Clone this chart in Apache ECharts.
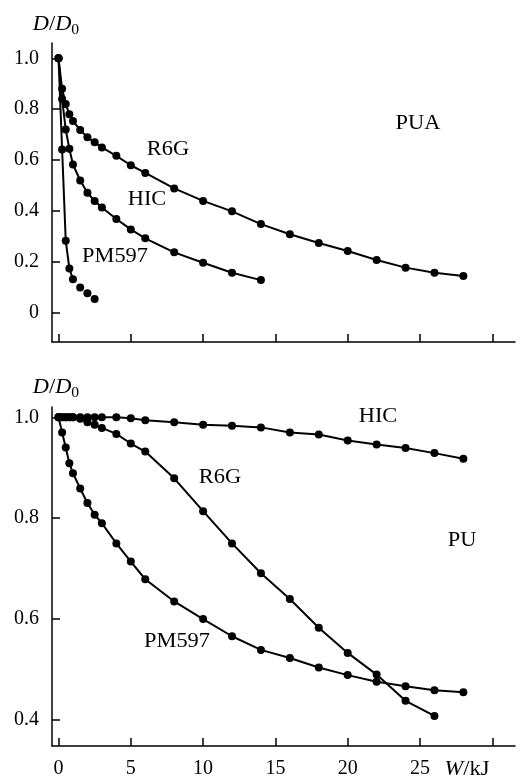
<!DOCTYPE html>
<html>
<head>
<meta charset="utf-8">
<script src="https://cdn.jsdelivr.net/npm/echarts@6/dist/echarts.min.js"></script>
<style>
  html, body { margin: 0; padding: 0; background: #fff; }
  #chart { width: 524px; height: 780px; }
</style>
</head>
<body>
<div id="chart"></div>
<script>
// W, kJ
var energy = [0, 0.25, 0.5, 0.75, 1, 1.5, 2, 2.5, 3, 4, 5, 6, 8, 10, 12, 14, 16, 18, 20, 22, 24, 26, 28];

// PUA (top panel)
var puaR6G = [1.0, 0.88, 0.82, 0.78, 0.754, 0.718, 0.69, 0.67, 0.65, 0.617, 0.58, 0.55, 0.489, 0.44, 0.399, 0.349, 0.309, 0.275, 0.243, 0.208, 0.178, 0.158, 0.145];
var puaHIC = [1.0, 0.84, 0.72, 0.645, 0.583, 0.52, 0.472, 0.44, 0.414, 0.369, 0.328, 0.293, 0.238, 0.197, 0.158, 0.129];
var puaPM597 = [1.0, 0.642, 0.284, 0.175, 0.132, 0.1, 0.077, 0.055];

// PU (bottom panel)
var puR6G = [1.0, 1.0, 1.0, 1.0, 1.0, 0.997, 0.99, 0.985, 0.979, 0.967, 0.948, 0.932, 0.879, 0.814, 0.75, 0.691, 0.64, 0.583, 0.533, 0.49, 0.438, 0.408];
var puHIC = [1.0, 1.0, 1.0, 1.0, 1.0, 1.0, 1.0, 1.0, 1.0, 1.0, 0.998, 0.994, 0.99, 0.985, 0.983, 0.98, 0.97, 0.966, 0.954, 0.946, 0.939, 0.929, 0.918];
var puPM597 = [1.0, 0.97, 0.94, 0.909, 0.889, 0.859, 0.83, 0.807, 0.79, 0.75, 0.714, 0.679, 0.635, 0.6, 0.566, 0.539, 0.523, 0.504, 0.489, 0.476, 0.467, 0.459, 0.455];

// ticks
var xTicks = [0, 5, 10, 15, 20, 25, 30];
var xLabels = [0, 5, 10, 15, 20, 25];
var yTicksTop = [0, 0.2, 0.4, 0.6, 0.8, 1.0];
var yTicksBottom = [0.4, 0.6, 0.8, 1.0];

function pairs(vals) {
    return vals.map(function (v, i) { return [energy[i], v]; });
}

var FONT = '"Liberation Serif", "DejaVu Serif", serif';
var FS = 20;
var black = '#000';

function xAxisCfg(idx, showLabels) {
    return {
        type: 'value', gridIndex: idx, min: -0.45, max: 31.57,
        splitLine: { show: false },
        axisLine: { onZero: false, lineStyle: { color: black, width: 1.5 } },
        axisTick: { inside: true, length: 8, lineStyle: { color: black, width: 1.5 }, customValues: xTicks },
        axisLabel: {
            show: showLabels, customValues: xLabels, margin: 13,
            color: black, fontFamily: FONT, fontSize: FS
        }
    };
}

function yAxisCfg(idx, min, max, ticks) {
    return {
        type: 'value', gridIndex: idx, min: min, max: max,
        splitLine: { show: false },
        axisLine: { onZero: false, lineStyle: { color: black, width: 1.5 } },
        axisTick: { inside: true, length: 8, lineStyle: { color: black, width: 1.5 }, customValues: ticks },
        axisLabel: {
            customValues: ticks, margin: 13,
            color: black, fontFamily: FONT, fontSize: FS,
            formatter: function (v) { return v === 0 ? '0' : v.toFixed(1); }
        }
    };
}

function lineSeries(name, data, gi) {
    return {
        name: name, type: 'line', xAxisIndex: gi, yAxisIndex: gi,
        data: data, symbol: 'circle', symbolSize: 8,
        itemStyle: { color: black, opacity: 1 },
        lineStyle: { color: black, width: 2 },
        silent: true, animation: false
    };
}

// text labels in the plot, slightly stretched like the scanned figure
function label(text, x, y) {
    return {
        type: 'text', x: x, y: y, scaleX: 1.12,
        style: {
            text: text, fill: black, font: FS + 'px ' + FONT,
            align: 'center', verticalAlign: 'middle',
            rich: {
                n: { fontFamily: FONT, fontSize: FS, fill: black },
                i: { fontStyle: 'italic', fontFamily: FONT, fontSize: FS, fill: black },
                s: { fontFamily: FONT, fontSize: 14, fill: black, padding: [10, 0, 0, 0] }
            }
        }
    };
}

var chart = echarts.init(document.getElementById('chart'), null, { renderer: 'canvas' });

var pmLine = pairs(puaPM597).slice(0, 5);
var pmDots = pairs(puaPM597).slice(5);

chart.setOption({
    backgroundColor: '#fff',
    animation: false,
    grid: [
        { left: 52, right: 9, top: 43, height: 299 },
        { left: 52, right: 9, top: 407, height: 339 }
    ],
    xAxis: [xAxisCfg(0, false), xAxisCfg(1, true)],
    yAxis: [
        yAxisCfg(0, -0.114, 1.06, yTicksTop),
        yAxisCfg(1, 0.3485, 1.0204, yTicksBottom)
    ],
    series: [
        lineSeries('R6G', pairs(puaR6G), 0),
        lineSeries('HIC', pairs(puaHIC), 0),
        lineSeries('PM597', pmLine, 0),
        {
            name: 'PM597 tail', type: 'scatter', xAxisIndex: 0, yAxisIndex: 0,
            data: pmDots, symbol: 'circle', symbolSize: 8,
            itemStyle: { color: black, opacity: 1 }, silent: true
        },
        lineSeries('R6G', pairs(puR6G), 1),
        lineSeries('HIC', pairs(puHIC), 1),
        lineSeries('PM597', pairs(puPM597), 1)
    ],
    graphic: [
        label('{i|D}{n|/}{i|D}{s|0}', 56, 25),
        label('{i|D}{n|/}{i|D}{s|0}', 56, 388),
        label('R6G', 168, 150),
        label('HIC', 147, 200),
        label('PM597', 115, 257),
        label('PUA', 418, 124),
        label('HIC', 378, 417),
        label('R6G', 220, 478),
        label('PU', 462, 541),
        label('PM597', 177, 642),
        label('{i|W}{n|/kJ}', 467, 770)
    ]
});
</script>
</body>
</html>
